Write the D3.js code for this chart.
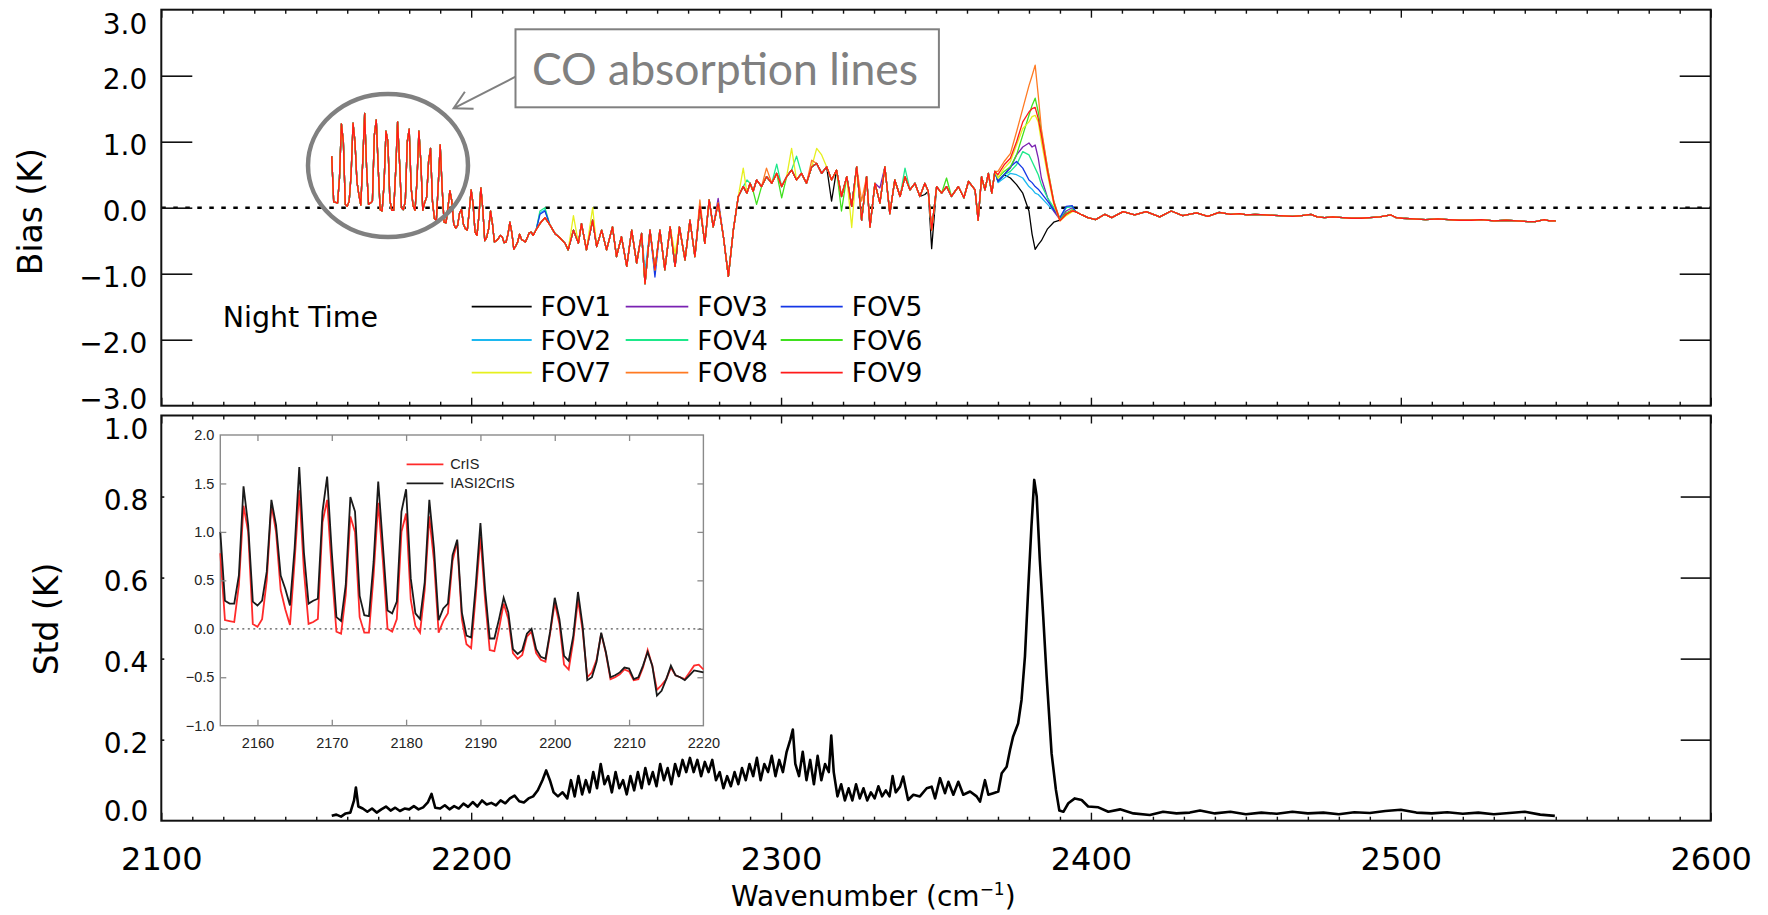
<!DOCTYPE html>
<html>
<head>
<meta charset="utf-8">
<script src="https://cdn.jsdelivr.net/npm/d3@7"></script>
<style>
  html, body { margin: 0; padding: 0; background: #fff; }
  svg { display: block; }
</style>
</head>
<body>
<svg id="chart" width="1768" height="915"></svg>
<script>
// ---------------- data ----------------

// CrIS shortwave grid (0.625 cm-1) across the CO band, used by the inset
const insetWn = d3.range(105).map(i => 2155 + i * 0.625);

// CrIS minus simulation bias in the CO band (inset, red)
const crisBias = [
  0.78, 0.09, 0.08, 0.07, 0.45, 1.27, 1.00, 0.05, 0.02, 0.10,
  0.50, 1.28, 1.00, 0.40, 0.20, 0.04, 0.70, 1.43, 0.60, 0.05,
  0.07, 0.10, 1.10, 1.33, 0.60, -0.03, -0.05, 0.35, 1.16, 1.00,
  0.12, -0.04, -0.04, 0.55, 1.30, 0.70, 0.00, -0.03, 0.10, 1.00,
  1.19, 0.30, 0.03, -0.04, 0.40, 1.16, 0.70, -0.04, 0.08, 0.16,
  0.70, 0.90, 0.10, -0.16, -0.20, 0.35, 0.95, 0.30, -0.22, -0.23,
  0.00, 0.26, 0.10, -0.25, -0.31, -0.27, -0.08, -0.03, -0.25, -0.32,
  -0.34, -0.05, 0.27, 0.05, -0.37, -0.42, -0.12, 0.30, -0.02, -0.50,
  -0.45, -0.32, -0.05, -0.25, -0.52, -0.50, -0.47, -0.42, -0.44, -0.53,
  -0.52, -0.40, -0.22, -0.38, -0.63, -0.58, -0.52, -0.40, -0.48, -0.50,
  -0.52, -0.45, -0.38, -0.37, -0.42
];

// IASI converted to CrIS bias in the CO band (inset, black)
const iasi2crisBias = [
  1.00, 0.29, 0.26, 0.26, 0.55, 1.47, 1.07, 0.28, 0.24, 0.29,
  0.59, 1.33, 1.07, 0.55, 0.41, 0.24, 0.83, 1.67, 0.79, 0.26,
  0.29, 0.31, 1.21, 1.57, 0.79, 0.12, 0.08, 0.45, 1.36, 1.21,
  0.34, 0.14, 0.13, 0.69, 1.52, 0.86, 0.19, 0.16, 0.28, 1.21,
  1.44, 0.52, 0.16, 0.10, 0.48, 1.33, 0.83, 0.09, 0.21, 0.26,
  0.76, 0.92, 0.17, -0.07, -0.09, 0.45, 1.09, 0.41, -0.10, -0.10,
  0.10, 0.32, 0.17, -0.21, -0.26, -0.22, -0.05, 0.00, -0.21, -0.29,
  -0.31, -0.03, 0.32, 0.10, -0.28, -0.33, -0.07, 0.38, 0.03, -0.53,
  -0.50, -0.34, -0.04, -0.24, -0.50, -0.48, -0.45, -0.40, -0.41, -0.52,
  -0.50, -0.38, -0.24, -0.38, -0.69, -0.64, -0.52, -0.38, -0.48, -0.50,
  -0.53, -0.48, -0.43, -0.44, -0.45
];

// FOV-averaged bias beyond the CO band (K)
const biasWn = [
  2221.0, 2222.2, 2223.8, 2225.4, 2227.0, 2228.7, 2230.3, 2231.3, 2233.0, 2234.6,
  2235.6, 2237.2, 2239.2, 2240.5, 2242.1, 2243.7, 2245.6, 2246.9, 2248.5, 2250.2,
  2251.8, 2253.4, 2255.0, 2256.1, 2257.7, 2259.3, 2260.9, 2262.5, 2264.2, 2265.8,
  2267.2, 2269.0, 2270.6, 2272.2, 2273.8, 2275.4, 2276.8, 2278.1, 2279.7, 2281.4,
  2283.0, 2284.6, 2286.2, 2287.8, 2289.0, 2290.0, 2291.0, 2292.1, 2293.7, 2295.3,
  2297.0, 2298.6, 2300.2, 2301.8, 2303.4, 2305.0, 2306.6, 2308.2, 2309.9, 2311.5,
  2313.1, 2314.7, 2316.3, 2317.9, 2319.5, 2321.2, 2322.8, 2324.4, 2326.0, 2327.6,
  2328.7, 2330.3, 2331.9, 2333.5, 2335.1, 2336.7, 2338.4, 2340.0, 2341.6, 2343.2,
  2344.8, 2346.4, 2347.5, 2348.6, 2350.2, 2351.8, 2353.4, 2355.0, 2357.2, 2359.0,
  2360.5, 2362.6, 2363.6, 2364.7, 2365.8, 2366.9, 2368.0, 2369.0,
  2395.0, 2397.1, 2399.0, 2401.5, 2404.5, 2406.7, 2410.4, 2414.1, 2417.8, 2422.2,
  2425.9, 2429.6, 2434.1, 2437.7, 2441.4, 2445.1, 2448.0, 2450.3, 2453.0, 2456.2,
  2460.6, 2465.1, 2468.0, 2471.0, 2473.0, 2475.4, 2478.0, 2481.3, 2484.0, 2487.2,
  2490.0, 2493.2, 2496.8, 2498.5, 2500.5, 2504.0, 2508.0, 2512.0, 2515.3, 2519.0,
  2522.7, 2526.0, 2530.1, 2534.0, 2537.5, 2541.0, 2543.4, 2546.3, 2548.0, 2550.0
];
const biasMean = [
  -0.33, -0.24, -0.15, -0.26, -0.39, -0.46, -0.54, -0.64, -0.34, -0.54,
  -0.24, -0.64, -0.19, -0.59, -0.34, -0.64, -0.29, -0.74, -0.44, -0.89,
  -0.34, -0.84, -0.39, -1.15, -0.34, -0.94, -0.34, -0.94, -0.29, -0.89,
  -0.29, -0.79, -0.19, -0.74, 0.02, -0.54, 0.12, -0.29, 0.07, -0.44,
  -1.04, -0.34, 0.17, 0.32, 0.22, 0.37, 0.25, 0.42, 0.32, 0.47,
  0.37, 0.52, 0.32, 0.47, 0.57, 0.42, 0.52, 0.37, 0.62, 0.67,
  0.52, 0.62, 0.42, 0.57, 0.17, 0.47, 0.02, 0.62, -0.19, 0.47,
  -0.29, 0.37, 0.07, 0.62, -0.09, 0.42, 0.17, 0.47, 0.27, 0.37,
  0.17, 0.37, 0.25, -0.34, 0.32, 0.22, 0.32, 0.17, 0.32, 0.15,
  0.40, 0.27, -0.19, 0.47, 0.27, 0.52, 0.22, 0.55,
  -0.06, -0.11, -0.15, -0.18, -0.10, -0.15, -0.06, -0.11, -0.06, -0.14,
  -0.05, -0.12, -0.08, -0.13, -0.07, -0.10, -0.09, -0.11, -0.10, -0.11,
  -0.12, -0.13, -0.12, -0.10, -0.14, -0.15, -0.14, -0.15, -0.16, -0.16,
  -0.15, -0.14, -0.11, -0.15, -0.16, -0.17, -0.18, -0.17, -0.18, -0.19,
  -0.19, -0.18, -0.20, -0.19, -0.20, -0.21, -0.21, -0.18, -0.20, -0.20
];

// Individual FOV bias around the 2380 cm-1 band edge (K)
const peakWn = [2370, 2372, 2374, 2376, 2378, 2380, 2381, 2382, 2383, 2384, 2386, 2388, 2390, 2392, 2394];
const fov1Peak = [0.40, 0.50, 0.45, 0.35, 0.22, -0.05, -0.40, -0.63, -0.56, -0.50, -0.32, -0.22, -0.19, -0.10, -0.05];
const fov2Peak = [0.38, 0.45, 0.52, 0.50, 0.45, 0.32, 0.28, 0.22, 0.20, 0.15, 0.05, -0.05, -0.16, 0.00, 0.02];
const fov3Peak = [0.40, 0.50, 0.60, 0.80, 0.92, 0.98, 0.92, 0.95, 0.75, 0.45, 0.15, -0.05, -0.18, -0.05, 0.00];
const fov4Peak = [0.40, 0.50, 0.55, 0.65, 0.85, 0.80, 0.70, 0.60, 0.50, 0.35, 0.15, 0.00, -0.16, 0.00, 0.02];
const fov5Peak = [0.40, 0.50, 0.62, 0.70, 0.60, 0.42, 0.38, 0.32, 0.28, 0.22, 0.10, -0.03, -0.15, 0.02, 0.03];
const fov6Peak = [0.45, 0.55, 0.62, 0.80, 1.10, 1.40, 1.55, 1.66, 1.45, 1.15, 0.60, 0.10, -0.18, -0.08, -0.03];
const fov7Peak = [0.45, 0.60, 0.70, 0.95, 1.20, 1.30, 1.38, 1.40, 1.30, 1.00, 0.50, 0.05, -0.20, -0.12, -0.06];
const fov8Peak = [0.55, 0.70, 0.82, 1.15, 1.50, 1.85, 2.00, 2.16, 1.70, 1.20, 0.60, 0.10, -0.19, -0.10, -0.04];
const fov9Peak = [0.50, 0.65, 0.75, 1.00, 1.30, 1.45, 1.50, 1.52, 1.35, 1.10, 0.55, 0.08, -0.20, -0.10, -0.05];

// Points where a single FOV departs from the FOV average: [wavenumber, bias]
const fov1Dev = [[2348.6, -0.62], [2346.4, 0.20], [2316.3, 0.10]];
const fov2Dev = [[2222.2, -0.08], [2223.8, -0.03], [2256.1, -0.95]];
const fov3Dev = [[2279.7, 0.14], [2331.9, 0.30]];
const fov4Dev = [[2222.2, -0.05], [2223.8, 0.00], [2298.6, 0.66], [2305.0, 0.78], [2289.0, 0.42], [2340.0, 0.60]];
const fov5Dev = [[2222.2, -0.10], [2223.8, -0.05], [2259.3, -1.05]];
const fov6Dev = [[2292.1, 0.05], [2300.2, 0.15], [2319.5, -0.05], [2353.4, 0.45]];
const fov7Dev = [[2233.0, -0.12], [2239.2, 0.00], [2287.8, 0.60], [2303.4, 0.90], [2311.5, 0.90], [2313.1, 0.80], [2322.8, -0.30], [2265.8, -0.70]];
const fov8Dev = [[2295.3, 0.60], [2309.9, 0.72], [2326.0, 0.10], [2273.8, 0.12]];
const fov9Dev = [];

const fovNames = ["FOV1", "FOV2", "FOV3", "FOV4", "FOV5", "FOV6", "FOV7", "FOV8", "FOV9"];
const fovColors = ["#000000", "#1cb8f0", "#7a22b2", "#1de88a", "#1437e6", "#3fe01e", "#e6f01e", "#ff7a22", "#ff1a1a"];
const fovPeaks = [fov1Peak, fov2Peak, fov3Peak, fov4Peak, fov5Peak, fov6Peak, fov7Peak, fov8Peak, fov9Peak];
const fovDevs = [fov1Dev, fov2Dev, fov3Dev, fov4Dev, fov5Dev, fov6Dev, fov7Dev, fov8Dev, fov9Dev];
// legend columns, top to bottom
const legendColumns = [["FOV1", "FOV2", "FOV7"], ["FOV3", "FOV4", "FOV8"], ["FOV5", "FOV6", "FOV9"]];

// Standard deviation of the bias (K)
const stdWn = [
  2155.0, 2156.5, 2158.0, 2159.5, 2161.0, 2162.2, 2162.8, 2163.6, 2165.0, 2166.5,
  2168.0, 2169.5, 2171.0, 2172.5, 2174.0, 2175.5, 2177.0, 2178.5, 2180.0, 2181.5,
  2183.0, 2184.5, 2186.0, 2187.2, 2188.4, 2190.0, 2191.5, 2193.0, 2194.5, 2196.0,
  2197.5, 2199.0, 2200.5, 2202.0, 2203.5, 2205.0, 2206.5, 2208.0, 2209.5, 2211.0,
  2212.5, 2214.0, 2215.5, 2217.0, 2218.5, 2220.0, 2221.5, 2223.0, 2224.2, 2225.4,
  2226.6, 2228.0, 2229.5, 2231.0, 2232.2, 2233.4, 2234.6, 2235.8, 2237.0, 2238.2,
  2239.4, 2240.6, 2241.8, 2243.0, 2244.2, 2245.4, 2246.6, 2247.8, 2249.0, 2250.2,
  2251.4, 2252.6, 2253.8, 2255.0, 2256.2, 2257.4, 2258.6, 2259.8, 2261.0, 2262.2,
  2263.4, 2264.6, 2265.8, 2267.0, 2268.2, 2269.4, 2270.6, 2271.8, 2273.0, 2274.2,
  2275.4, 2276.6, 2277.8, 2279.0, 2280.2, 2281.4, 2282.6, 2283.8, 2285.0, 2286.2,
  2287.4, 2288.6, 2289.8, 2291.0, 2292.2, 2293.4, 2294.6, 2295.8, 2297.0, 2298.2,
  2299.4, 2300.6, 2301.8, 2303.0, 2303.8, 2304.6, 2305.8, 2307.0, 2308.2, 2309.4,
  2310.6, 2311.8, 2313.0, 2314.2, 2315.4, 2316.2, 2317.0, 2318.2, 2319.4, 2320.6,
  2321.8, 2323.0, 2324.2, 2325.4, 2326.6, 2327.8, 2329.0, 2330.2, 2331.4, 2332.6,
  2333.8, 2335.0, 2336.0, 2337.0, 2338.4, 2339.4, 2341.0, 2342.7, 2344.8, 2347.0,
  2348.6, 2349.7, 2351.3, 2352.9, 2354.0, 2355.6, 2357.2, 2358.8, 2361.0, 2363.1,
  2364.2, 2365.8, 2366.9, 2368.5, 2370.1, 2371.2, 2372.8, 2373.9, 2374.9, 2376.5,
  2377.6, 2378.7, 2379.8, 2380.8, 2381.7, 2382.5, 2383.5, 2384.6, 2385.7, 2387.3,
  2388.7, 2389.8, 2391.1, 2392.7, 2394.8, 2397.0, 2399.1, 2402.4, 2405.6, 2409.4,
  2413.7, 2419.0, 2423.3, 2427.6, 2431.9, 2435.2, 2440.0, 2445.0, 2450.0, 2455.0,
  2460.0, 2465.0, 2470.0, 2475.0, 2480.0, 2485.0, 2490.0, 2495.0, 2500.0, 2505.0,
  2510.0, 2515.0, 2520.0, 2525.0, 2530.0, 2535.0, 2540.0, 2545.0, 2549.7
];
const stdVal = [
  0.012, 0.015, 0.010, 0.018, 0.020, 0.050, 0.082, 0.035, 0.030, 0.022,
  0.030, 0.020, 0.028, 0.035, 0.025, 0.032, 0.024, 0.030, 0.028, 0.036,
  0.028, 0.033, 0.045, 0.066, 0.032, 0.030, 0.038, 0.028, 0.036, 0.030,
  0.042, 0.034, 0.046, 0.035, 0.050, 0.040, 0.044, 0.038, 0.050, 0.043,
  0.055, 0.062, 0.048, 0.045, 0.055, 0.060, 0.075, 0.100, 0.124, 0.100,
  0.070, 0.060, 0.070, 0.055, 0.100, 0.060, 0.110, 0.065, 0.100, 0.070,
  0.120, 0.080, 0.140, 0.090, 0.110, 0.070, 0.120, 0.080, 0.100, 0.065,
  0.110, 0.075, 0.120, 0.080, 0.130, 0.090, 0.120, 0.085, 0.140, 0.100,
  0.130, 0.090, 0.140, 0.110, 0.150, 0.120, 0.155, 0.120, 0.150, 0.110,
  0.145, 0.120, 0.150, 0.100, 0.120, 0.080, 0.110, 0.085, 0.120, 0.090,
  0.130, 0.100, 0.140, 0.110, 0.155, 0.100, 0.140, 0.120, 0.160, 0.110,
  0.150, 0.120, 0.170, 0.200, 0.225, 0.140, 0.110, 0.170, 0.100, 0.150,
  0.090, 0.160, 0.100, 0.140, 0.120, 0.210, 0.120, 0.060, 0.090, 0.050,
  0.080, 0.050, 0.090, 0.055, 0.080, 0.050, 0.070, 0.055, 0.085, 0.060,
  0.075, 0.060, 0.110, 0.070, 0.084, 0.109, 0.051, 0.064, 0.060, 0.080,
  0.084, 0.055, 0.105, 0.068, 0.096, 0.064, 0.096, 0.064, 0.072, 0.060,
  0.047, 0.100, 0.064, 0.068, 0.072, 0.117, 0.133, 0.175, 0.208, 0.240,
  0.298, 0.405, 0.578, 0.726, 0.841, 0.800, 0.644, 0.504, 0.356, 0.166,
  0.076, 0.025, 0.022, 0.043, 0.055, 0.051, 0.035, 0.033, 0.022, 0.028,
  0.018, 0.014, 0.022, 0.018, 0.020, 0.025, 0.018, 0.022, 0.016, 0.020,
  0.017, 0.022, 0.018, 0.020, 0.016, 0.021, 0.019, 0.024, 0.027, 0.020,
  0.018, 0.021, 0.017, 0.020, 0.016, 0.019, 0.022, 0.015, 0.012
];

// tick values and labels
const xMajorTicks = [2100, 2200, 2300, 2400, 2500, 2600];
const biasTicks = [-3, -2, -1, 0, 1, 2, 3];
const stdTicks = [0, 0.2, 0.4, 0.6, 0.8, 1.0];
const insetXTicks = [2160, 2170, 2180, 2190, 2200, 2210, 2220];
const insetYTicks = [-1, -0.5, 0, 0.5, 1, 1.5, 2];

// ---------------- layout ----------------
const svg = d3.select("#chart");
const FONT = "'DejaVu Sans', sans-serif";
const L = 161.3, R = 1710.7;
const biasTop = 9.7, biasBottom = 405.7;
const stdTop = 415.5, stdBottom = 820.7;

const x = d3.scaleLinear().domain([2100, 2600]).range([L, R]);
const yBias = d3.scaleLinear().domain([-3, 3]).range([biasBottom, biasTop]);
const yStd = d3.scaleLinear().domain([0, 1]).range([stdBottom, stdTop]);

const minorX = d3.range(2110, 2600, 10).filter(v => v % 100 !== 0);

function styleTicks(g, color, width) {
  g.select(".domain").remove();
  g.selectAll(".tick line").attr("stroke", color).attr("stroke-width", width);
}

// inward x ticks on a horizontal panel edge
function edgeTicksX(yPos, inwardDown) {
  const gen = inwardDown ? d3.axisBottom : d3.axisTop;
  svg.append("g").attr("transform", `translate(0,${yPos})`)
    .call(gen(x).tickValues(minorX).tickSize(4).tickFormat(""))
    .call(g => styleTicks(g, "#111", 1.4));
  svg.append("g").attr("transform", `translate(0,${yPos})`)
    .call(gen(x).tickValues(xMajorTicks).tickSize(8).tickFormat(""))
    .call(g => styleTicks(g, "#111", 1.4));
}

// ---------------- top panel: bias ----------------
const line = d3.line().x(d => x(d[0])).y(d => yBias(d[1]));

function fovPoints(peak, dev) {
  const devMap = new Map(dev.map(d => [d[0], d[1]]));
  const pts = insetWn.map((w, i) => [w, crisBias[i]]);
  const tailVal = (w, i) => devMap.has(w) ? devMap.get(w) : biasMean[i];
  biasWn.forEach((w, i) => { if (w < peakWn[0]) pts.push([w, tailVal(w, i)]); });
  peakWn.forEach((w, i) => pts.push([w, peak[i]]));
  biasWn.forEach((w, i) => { if (w > peakWn[peakWn.length - 1]) pts.push([w, tailVal(w, i)]); });
  return pts;
}

// zero reference line
svg.append("line")
  .attr("x1", L).attr("x2", R).attr("y1", yBias(0)).attr("y2", yBias(0))
  .attr("stroke", "#000").attr("stroke-width", 2.6).attr("stroke-dasharray", "4.5 7.5");

const fovGroup = svg.append("g").attr("fill", "none").attr("stroke-linejoin", "round");
fovNames.forEach((name, i) => {
  fovGroup.append("path")
    .datum(fovPoints(fovPeaks[i], fovDevs[i]))
    .attr("d", line)
    .attr("stroke", fovColors[i])
    .attr("stroke-width", 1.3);
});

// frame and ticks
svg.append("rect").attr("x", L).attr("y", biasTop).attr("width", R - L).attr("height", biasBottom - biasTop)
  .attr("fill", "none").attr("stroke", "#111").attr("stroke-width", 2);
edgeTicksX(biasTop, true);
edgeTicksX(biasBottom, false);
svg.append("g").attr("transform", `translate(${L},0)`)
  .call(d3.axisRight(yBias).tickValues([-2, -1, 0, 1, 2]).tickSize(31).tickFormat(""))
  .call(g => styleTicks(g, "#111", 1.6));
svg.append("g").attr("transform", `translate(${R},0)`)
  .call(d3.axisLeft(yBias).tickValues([-2, -1, 0, 1, 2]).tickSize(31).tickFormat(""))
  .call(g => styleTicks(g, "#111", 1.6));

// y tick labels
svg.append("g").attr("transform", `translate(${L},0)`)
  .call(d3.axisLeft(yBias).tickValues(biasTicks).tickSize(0).tickPadding(14).tickFormat(d3.format(".1f")))
  .call(g => {
    g.select(".domain").remove();
    g.selectAll("text").attr("font-family", FONT).attr("font-size", 28).attr("fill", "#000")
      .attr("dy", d => d === 3 ? "23.8px" : d === -3 ? "2.4px" : "13.2px");
  });

svg.append("text")
  .attr("transform", "translate(41.7,211.7) rotate(-90)")
  .attr("text-anchor", "middle").attr("font-family", FONT).attr("font-size", 33)
  .text("Bias (K)");

svg.append("text")
  .attr("x", 222.7).attr("y", 326.7)
  .attr("font-family", FONT).attr("font-size", 28.5)
  .text("Night Time");

// legend
const legendLineX = [[471.7, 531.7], [625.7, 688.3], [780.7, 842.7]];
const legendTextX = [540.5, 697.3, 851.7];
const legendRowY = [306.7, 340, 372.7];
legendColumns.forEach((col, c) => {
  col.forEach((name, r) => {
    const idx = fovNames.indexOf(name);
    svg.append("line")
      .attr("x1", legendLineX[c][0]).attr("x2", legendLineX[c][1])
      .attr("y1", legendRowY[r]).attr("y2", legendRowY[r])
      .attr("stroke", fovColors[idx]).attr("stroke-width", 1.8);
    svg.append("text")
      .attr("x", legendTextX[c]).attr("y", legendRowY[r] + 9.5)
      .attr("font-family", FONT).attr("font-size", 26.5)
      .text(name);
  });
});

// CO annotation
const annoColor = "#808080";
svg.append("ellipse")
  .attr("cx", 388).attr("cy", 165.5).attr("rx", 80).attr("ry", 71.5)
  .attr("fill", "none").attr("stroke", annoColor).attr("stroke-width", 4.5);
svg.append("rect")
  .attr("x", 515.5).attr("y", 29.3).attr("width", 423.4).attr("height", 78)
  .attr("fill", "#fff").attr("stroke", annoColor).attr("stroke-width", 2);
svg.append("text")
  .attr("x", 725).attr("y", 85).attr("text-anchor", "middle")
  .attr("font-family", "Lato, 'Open Sans', sans-serif").attr("font-size", 44.5)
  .attr("fill", annoColor)
  .text("CO absorption lines");
{
  const sx = 515.5, sy = 76.7, tx = 453.6, ty = 108.3;
  const ang = Math.atan2(sy - ty, sx - tx);
  const len = 20, spread = 0.5;
  const a1 = [tx + len * Math.cos(ang + spread), ty + len * Math.sin(ang + spread)];
  const a2 = [tx + len * Math.cos(ang - spread), ty + len * Math.sin(ang - spread)];
  svg.append("path")
    .attr("d", `M${sx},${sy}L${tx},${ty}M${a1[0]},${a1[1]}L${tx},${ty}L${a2[0]},${a2[1]}`)
    .attr("fill", "none").attr("stroke", annoColor).attr("stroke-width", 2);
}

// ---------------- bottom panel: std ----------------
const stdLine = d3.line().x(d => x(d[0])).y(d => yStd(d[1]));
svg.append("path")
  .datum(stdWn.map((w, i) => [w, stdVal[i]]))
  .attr("d", stdLine)
  .attr("fill", "none").attr("stroke", "#000").attr("stroke-width", 2.6)
  .attr("stroke-linejoin", "round");

svg.append("rect").attr("x", L).attr("y", stdTop).attr("width", R - L).attr("height", stdBottom - stdTop)
  .attr("fill", "none").attr("stroke", "#111").attr("stroke-width", 2);
edgeTicksX(stdTop, true);
edgeTicksX(stdBottom, false);
svg.append("g").attr("transform", `translate(${L},0)`)
  .call(d3.axisRight(yStd).tickValues([0.2, 0.4, 0.6, 0.8]).tickSize(3).tickFormat(""))
  .call(g => styleTicks(g, "#111", 1.6));
svg.append("g").attr("transform", `translate(${R},0)`)
  .call(d3.axisLeft(yStd).tickValues([0.2, 0.4, 0.6, 0.8]).tickSize(30).tickFormat(""))
  .call(g => styleTicks(g, "#111", 1.6));

svg.append("g").attr("transform", `translate(${L},0)`)
  .call(d3.axisLeft(yStd).tickValues(stdTicks).tickSize(0).tickPadding(13).tickFormat(d3.format(".1f")))
  .call(g => {
    g.select(".domain").remove();
    g.selectAll("text").attr("font-family", FONT).attr("font-size", 28).attr("fill", "#000")
      .attr("dy", d => d === 1 ? "22.7px" : d === 0 ? "0px" : "13.2px");
  });

svg.append("g").attr("transform", `translate(0,${stdBottom})`)
  .call(d3.axisBottom(x).tickValues(xMajorTicks).tickSize(0).tickPadding(26.6).tickFormat(d3.format("d")))
  .call(g => {
    g.select(".domain").remove();
    g.selectAll("text").attr("font-family", FONT).attr("font-size", 32).attr("fill", "#000");
  });

svg.append("text")
  .attr("transform", "translate(57.5,619) rotate(-90)")
  .attr("text-anchor", "middle").attr("font-family", FONT).attr("font-size", 33)
  .text("Std (K)");

{
  const t = svg.append("text")
    .attr("x", 731).attr("y", 906)
    .attr("font-family", FONT).attr("font-size", 28);
  t.append("tspan").text("Wavenumber (cm");
  t.append("tspan").attr("font-size", 17).attr("dy", -11).text("\u22121");
  t.append("tspan").attr("dy", 11).text(")");
}

// ---------------- inset: CO band detail ----------------
const iL = 220.3, iR = 703.4, iT = 435, iB = 725.7;
const xi = d3.scaleLinear().domain([2155, 2220]).range([iL, iR]);
const yi = d3.scaleLinear().domain([-1, 2]).range([iB, iT]);
const inset = svg.append("g");
const insetGray = "#8a8a8a";
const INSET_FONT = "'Liberation Sans', Arial, sans-serif";

inset.append("rect").attr("x", iL).attr("y", iT).attr("width", iR - iL).attr("height", iB - iT)
  .attr("fill", "#fff").attr("stroke", insetGray).attr("stroke-width", 1.4);

inset.append("line")
  .attr("x1", iL).attr("x2", iR).attr("y1", yi(0)).attr("y2", yi(0))
  .attr("stroke", "#555").attr("stroke-width", 1.2).attr("stroke-dasharray", "2 3.5");

const iLine = d3.line().x(d => xi(d[0])).y(d => yi(d[1]));
inset.append("path")
  .datum(insetWn.map((w, i) => [w, crisBias[i]]))
  .attr("d", iLine).attr("fill", "none").attr("stroke", "#ff2a2a").attr("stroke-width", 1.8);
inset.append("path")
  .datum(insetWn.map((w, i) => [w, iasi2crisBias[i]]))
  .attr("d", iLine).attr("fill", "none").attr("stroke", "#1a1a1a").attr("stroke-width", 1.8);

const insetTicks = (gen, scale, vals, tx, ty) => inset.append("g")
  .attr("transform", `translate(${tx},${ty})`)
  .call(gen(scale).tickValues(vals).tickSize(6).tickFormat(""))
  .call(g => styleTicks(g, insetGray, 1.3));
insetTicks(d3.axisBottom, xi, insetXTicks.slice(0, -1), 0, iT);
insetTicks(d3.axisTop, xi, insetXTicks.slice(0, -1), 0, iB);
insetTicks(d3.axisRight, yi, insetYTicks.slice(1, -1), iL, 0);
insetTicks(d3.axisLeft, yi, insetYTicks.slice(1, -1), iR, 0);

inset.append("g").attr("transform", `translate(0,${iB})`)
  .call(d3.axisBottom(xi).tickValues(insetXTicks).tickSize(0).tickPadding(12).tickFormat(d3.format("d")))
  .call(g => {
    g.select(".domain").remove();
    g.selectAll("text").attr("font-family", INSET_FONT).attr("font-size", 14.5).attr("fill", "#222");
  });
inset.append("g").attr("transform", `translate(${iL},0)`)
  .call(d3.axisLeft(yi).tickValues(insetYTicks).tickSize(0).tickPadding(6).tickFormat(d3.format(".1f")))
  .call(g => {
    g.select(".domain").remove();
    g.selectAll("text").attr("font-family", INSET_FONT).attr("font-size", 14.5).attr("fill", "#222");
  });

// inset legend
const insetLegend = [["CrIS", "#ff2a2a", 464.3], ["IASI2CrIS", "#1a1a1a", 483.3]];
insetLegend.forEach(([label, color, yy]) => {
  inset.append("line").attr("x1", 406.6).attr("x2", 443.4).attr("y1", yy).attr("y2", yy)
    .attr("stroke", color).attr("stroke-width", 1.8);
  inset.append("text").attr("x", 450.3).attr("y", yy + 5)
    .attr("font-family", INSET_FONT).attr("font-size", 14.5).attr("fill", "#222")
    .text(label);
});
</script>
</body>
</html>
